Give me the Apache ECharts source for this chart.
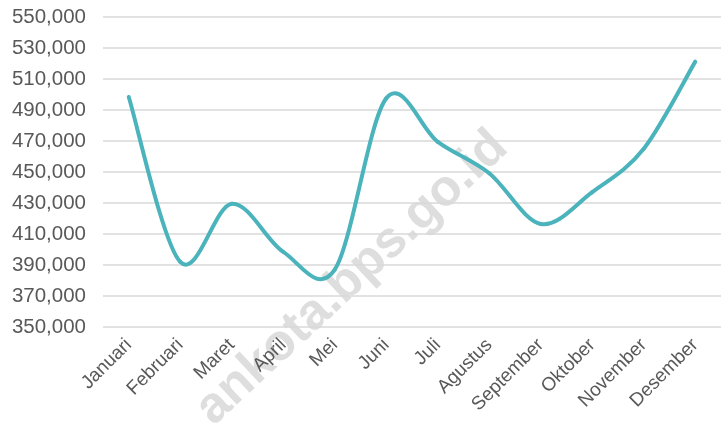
<!DOCTYPE html>
<html>
<head>
<meta charset="utf-8">
<script src="https://cdn.jsdelivr.net/npm/echarts@6/dist/echarts.min.js"></script>
<style>html,body{margin:0;padding:0;background:#fff}#c{width:721px;height:425px}</style>
</head>
<body>
<div id="c"></div>
<script>
const categories = ["Januari","Februari","Maret","April","Mei","Juni","Juli","Agustus","September","Oktober","November","Desember"];
const values = [498400, 392000, 429500, 398500, 387000, 497500, 469500, 449200, 416500, 437000, 465000, 521200];
const yMin = 350000, yMax = 550000, yStep = 20000;
const watermark = "ankota.bps.go.id";

const lineColor = '#4bb3bb';
const n = values.length;

function renderSegment(params, api) {
  const i = params.dataIndex;
  if (i >= n - 1) return null;
  const pt = k => api.coord([Math.max(0, Math.min(n - 1, k)), values[Math.max(0, Math.min(n - 1, k))]]);
  const p0 = pt(i - 1), p1 = pt(i), p2 = pt(i + 1), p3 = pt(i + 2);
  const t = 1 / 6;
  return {
    type: 'bezierCurve',
    shape: {
      x1: p1[0], y1: p1[1], x2: p2[0], y2: p2[1],
      cpx1: p1[0] + (p2[0] - p0[0]) * t, cpy1: p1[1] + (p2[1] - p0[1]) * t,
      cpx2: p2[0] - (p3[0] - p1[0]) * t, cpy2: p2[1] - (p3[1] - p1[1]) * t
    },
    style: {stroke: lineColor, lineWidth: 4, fill: null, lineCap: 'round'}
  };
}

const chart = echarts.init(document.getElementById('c'), null, {renderer: 'canvas'});
chart.setOption({
  animation: false,
  grid: {left: 103, right: -3, top: 17, bottom: 98},
  graphic: [{
    type: 'text', z: 0,
    x: 352, y: 278,
    rotation: 43 * Math.PI / 180,
    style: {
      text: watermark, fill: 'rgba(190,190,190,0.5)',
      font: 'bold 51px "Liberation Sans", Arial, sans-serif',
      align: 'center', verticalAlign: 'middle'
    }
  }],
  xAxis: {
    type: 'category', data: categories, boundaryGap: true,
    axisLine: {show: false}, axisTick: {show: false},
    axisLabel: {rotate: 45, color: '#595959', fontSize: 19, fontFamily: 'Liberation Sans', margin: 15, interval: 0}
  },
  yAxis: {
    type: 'value', min: yMin, max: yMax, interval: yStep,
    axisLine: {show: false}, axisTick: {show: false},
    splitLine: {lineStyle: {color: '#d9d9d9', width: 1.5}},
    axisLabel: {color: '#595959', fontSize: 20.5, fontFamily: 'Liberation Sans', margin: 17,
      formatter: v => v.toLocaleString('en-US')}
  },
  series: [{
    type: 'custom', z: 5,
    data: values.map((v, k) => [k, v]),
    encode: {x: 0, y: 1},
    renderItem: renderSegment
  }]
});
</script>
</body>
</html>
